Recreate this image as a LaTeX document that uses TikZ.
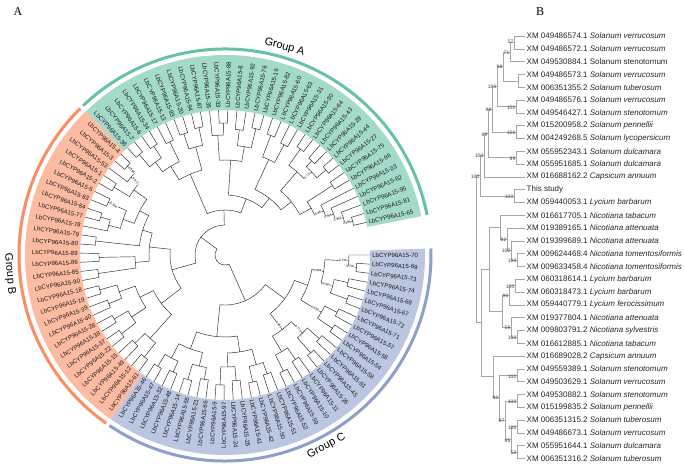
\documentclass[tikz,border=0pt]{standalone}
\usepackage{fontspec}
\setmainfont{Liberation Sans}
\newfontfamily\panelfont{Liberation Serif}
\definecolor{gA}{HTML}{66C2A5}
\definecolor{gB}{HTML}{FC8D62}
\definecolor{gC}{HTML}{8DA0CB}
\newcommand\ang[1]{13+(#1)*3.6146}
\newcommand\cl[5]{\draw[br] ({\ang{#2}}:#3) -- ({\ang{#2}}:#1) arc[start angle={\ang{#2}}, end angle={\ang{#4}}, radius=#1] -- ({\ang{#4}}:#5);}
\newcommand\band[3]{\fill[#1] ({\ang{#2}}:145) arc[start angle={\ang{#2}}, end angle={\ang{#3}}, radius=145] -- ({\ang{#3}}:200) arc[start angle={\ang{#3}}, end angle={\ang{#2}}, radius=200] -- cycle;}
\newcommand\garc[3]{\draw[#1, line width=3] ({\ang{#2}}:206) arc[start angle={\ang{#2}}, end angle={\ang{#3}}, radius=206];}
\newcommand\cbs[5]{\node[cbsty, rotate=#4] (#5) at ({\ang{#1}}:#2) {#3};}
\newcommand\Y[1]{-(36+(#1-1)*12.8)}
\newcommand\rc[5]{\draw[rbr] (#3,{\Y{#2}}) -- (#1,{\Y{#2}}) -- (#1,{\Y{#4}}) -- (#5,{\Y{#4}});}
\newcommand\rb[4]{\node[rbs] (#4) at (#1,{\Y{#2}}) {#3};}
\newcommand\rl[3]{\node[rlab] (#1) at (525,{\Y{#2}}) {#3};}
\tikzset{
  br/.style={draw=black!85, line width=0.45},
  rbr/.style={draw=black!35, line width=0.6},
  leaf/.style={font=\fontsize{6.1}{6.6}\selectfont, inner sep=0.6, text=black!90},
  grp/.style={font=\fontsize{11}{12}\selectfont, inner sep=1},
  cbsty/.style={font=\fontsize{3.1}{3.4}\selectfont, inner sep=0.25, fill=white},
  rbs/.style={font=\fontsize{5}{6}\selectfont, inner sep=0.5, anchor=north east, text=black!75},
  rlab/.style={font=\fontsize{8}{9}\selectfont, anchor=west, inner sep=1.5, text=black!85},
  panel/.style={font=\panelfont\fontsize{12}{13}\selectfont, inner sep=0}
}
\begin{document}
\begin{tikzpicture}[x=1pt,y=1pt]
\useasboundingbox (0,0) rectangle (685,-466);
\fill[white] (0,0) rectangle (685,-466);
\node[panel] (pA) at (18,-12) {A};
\node[panel] (pB) at (540,-12) {B};
\begin{scope}[shift={(225,-255)}]
% bands
\band{gA!60}{-0.5}{33.5}
\band{gB!60}{33.5}{61.5}
\band{gC!60}{61.5}{96.5}
\garc{gA}{-0.5}{33.35}
\garc{gB}{33.65}{61.35}
\garc{gC}{61.65}{96.5}
\node[grp, anchor=south, rotate=-15] (gAlab) at (74:210) {Group A};
\node[grp, anchor=north, rotate=-85] (gBlab) at (185:210) {Group B};
\node[grp, anchor=north, rotate=28] (gClab) at (-62:210) {Group C};
% group A
\cl{132}{0}{145}{1}{145}
\cl{124}{0.5}{132}{2}{145}
\cl{116}{1.25}{124}{3}{145}
\cl{108}{2.125}{116}{4}{145}
\cl{128}{5}{145}{6}{145}
\cl{98}{3.0625}{108}{5.5}{128}
\cl{132}{7}{145}{8}{145}
\cl{128}{9}{145}{10}{145}
\cl{120}{7.5}{132}{9.5}{128}
\cl{130}{11}{145}{12}{145}
\cl{110}{8.5}{120}{11.5}{130}
\cl{85}{4.28125}{98}{10}{110}
\cl{125}{13}{145}{14}{145}
\cl{128}{15}{145}{16}{145}
\cl{105}{13.5}{125}{15.5}{128}
\cl{72}{7.140625}{85}{14.5}{105}
\cl{130}{17}{145}{18}{145}
\cl{126}{19}{145}{20}{145}
\cl{110}{17.5}{130}{19.5}{126}
\cl{132}{21}{145}{22}{145}
\cl{120}{21.5}{132}{23}{145}
\cl{95}{18.5}{110}{22.25}{120}
\cl{60}{10.8203}{72}{20.375}{95}
\cl{130}{24}{145}{25}{145}
\cl{128}{26}{145}{27}{145}
\cl{112}{24.5}{130}{26.5}{128}
\cl{126}{28}{145}{29}{145}
\cl{130}{30}{145}{31}{145}
\cl{132}{32}{145}{33}{145}
\cl{116}{30.5}{130}{32.5}{132}
\cl{104}{28.5}{126}{31.5}{116}
\cl{88}{25.5}{112}{30}{104}
\cl{45}{15.5977}{60}{27.75}{88}
% group B
\cl{132}{34}{145}{35}{145}
\cl{122}{34.5}{132}{36}{145}
\cl{130}{37}{145}{38}{145}
\cl{112}{35.25}{122}{37.5}{130}
\cl{128}{39}{145}{40}{145}
\cl{130}{41}{145}{42}{145}
\cl{120}{41.5}{130}{43}{145}
\cl{108}{39.5}{128}{42.25}{120}
\cl{96}{36.375}{112}{40.875}{108}
\cl{130}{44}{145}{45}{145}
\cl{86}{38.625}{96}{44.5}{130}
\cl{126}{46}{145}{47}{145}
\cl{128}{48}{145}{49}{145}
\cl{90}{46.5}{126}{48.5}{128}
\cl{76}{41.5625}{86}{47.5}{90}
\cl{130}{50}{145}{51}{145}
\cl{126}{52}{145}{53}{145}
\cl{112}{50.5}{130}{52.5}{126}
\cl{128}{54}{145}{55}{145}
\cl{130}{56}{145}{57}{145}
\cl{112}{54.5}{128}{56.5}{130}
\cl{95}{51.5}{112}{55.5}{112}
\cl{126}{58}{145}{59}{145}
\cl{130}{60}{145}{61}{145}
\cl{112}{58.5}{126}{60.5}{130}
\cl{80}{53.5}{95}{59.5}{112}
\cl{55}{44.53125}{76}{56.5}{80}
\cl{30}{21.674}{45}{50.5156}{55}
% group C
\cl{130}{62}{145}{63}{145}
\cl{128}{64}{145}{65}{145}
\cl{116}{62.5}{130}{64.5}{128}
\cl{130}{66}{145}{67}{145}
\cl{126}{68}{145}{69}{145}
\cl{114}{66.5}{130}{68.5}{126}
\cl{100}{63.5}{116}{67.5}{114}
\cl{130}{70}{145}{71}{145}
\cl{126}{72}{145}{73}{145}
\cl{112}{70.5}{130}{72.5}{126}
\cl{130}{74}{145}{75}{145}
\cl{126}{76}{145}{77}{145}
\cl{114}{74.5}{130}{76.5}{126}
\cl{98}{71.5}{112}{75.5}{114}
\cl{82}{65.5}{100}{73.5}{98}
\cl{130}{78}{145}{79}{145}
\cl{126}{80}{145}{81}{145}
\cl{112}{78.5}{130}{80.5}{126}
\cl{130}{82}{145}{83}{145}
\cl{126}{84}{145}{85}{145}
\cl{110}{82.5}{130}{84.5}{126}
\cl{94}{79.5}{112}{83.5}{110}
\cl{130}{86}{145}{87}{145}
\cl{126}{88}{145}{89}{145}
\cl{112}{86.5}{130}{88.5}{126}
\cl{130}{90}{145}{91}{145}
\cl{126}{92}{145}{93}{145}
\cl{112}{90.5}{130}{92.5}{126}
\cl{132}{94}{145}{95}{145}
\cl{124}{94.5}{132}{96}{145}
\cl{100}{91.5}{112}{95.25}{124}
\cl{88}{87.5}{112}{93.375}{100}
\cl{74}{81.5}{94}{90.4375}{88}
\cl{50}{69.5}{82}{85.96875}{74}
% root
\cl{10}{36.095}{30}{77.734}{50}
% support values
\cbs{94.5}{126}{0.702}{0}{s1}
\cbs{95.25}{118}{0.734}{-2}{s2}
\cbs{93.375}{94}{0.909}{-8}{s3}
\cbs{91.5}{106}{0.987}{-15}{s4}
\cbs{87.5}{106}{0.98}{-35}{s5}
\cbs{83.5}{104}{0.775}{-48}{s6}
\cbs{81.5}{88}{0.965}{-55}{s7}
\cbs{0.5}{126}{0.999}{13}{s8}
\cbs{1.25}{118}{0.996}{16}{s9}
\cbs{2.125}{110}{0.998}{20}{s10}
\cbs{3.0625}{102}{0.96}{24}{s11}
\cbs{8.5}{114}{0.777}{44}{s12}
\cbs{34.5}{126}{0.998}{-48}{s13}
\cbs{35.25}{116}{0.977}{-50}{s14}
\cbs{39.5}{122}{0.994}{-35}{s15}
% leaf labels
\foreach \k/\n in {0/65,1/81,2/95,3/62,4/23,5/96,6/75,7/27,8/44,9/29,10/43,11/64,12/30,13/31,14/63,15/60,16/82,17/16,18/76,19/92,20/8,21/88,22/33,23/35,24/87,25/94,26/20,27/93,28/13,29/17,30/34,31/6,32/7,33/36,34/4,35/3,36/53,37/1,38/2,39/5,40/83,41/84,42/77,43/78,44/79,45/80,46/89,47/86,48/85,49/90,50/18,51/19,52/39,53/40,54/28,55/38,56/37,57/22,58/15,59/49,60/12,61/61,62/46,63/47,64/32,65/48,66/14,67/55,68/21,69/66,70/9,71/97,72/24,73/25,74/41,75/42,76/50,77/51,78/52,79/59,80/10,81/11,82/26,83/45,84/91,85/58,86/54,87/56,88/57,89/71,90/72,91/67,92/68,93/74,94/73,95/69,96/70}{%
  \pgfmathsetmacro\th{13+\k*3.6146}%
  \pgfmathtruncatemacro\side{and(\th>90,\th<270)}%
  \ifnum\side=1
    \node[leaf,anchor=east,rotate=\th+180] (l\n) at (\th:146.5) {LbCYP96A15-\n};
  \else
    \node[leaf,anchor=west,rotate=\th] (l\n) at (\th:146.5) {LbCYP96A15-\n};
  \fi
}
\end{scope}
% ---------- panel B ----------
\rc{514}{1}{525}{2}{525}
\rc{510}{1.5}{514}{3}{525}
\rc{518}{4}{525}{5}{525}
\rc{503}{2.25}{510}{4.5}{518}
\rc{516}{6}{525}{7}{525}
\rc{497}{3.375}{503}{6.5}{516}
\rc{516}{8}{525}{9}{525}
\rc{492}{4.94}{497}{8.5}{516}
\rc{516}{10}{525}{11}{525}
\rc{488}{6.72}{492}{10.5}{516}
\rc{484}{8.61}{488}{12}{525}
\rc{514}{13}{525}{14}{525}
\rc{480}{10.3}{484}{13.5}{514}
\rc{517}{18}{525}{19}{525}
\rc{511}{17}{525}{18.5}{517}
\rc{507}{16}{525}{17.75}{511}
\rc{500}{15}{525}{16.875}{507}
\rc{515}{20}{525}{21}{525}
\rc{509}{20.5}{515}{22}{525}
\rc{517}{24}{525}{25}{525}
\rc{511}{23}{525}{24.5}{517}
\rc{502}{21.25}{509}{23.75}{511}
\rc{489}{15.94}{500}{22.5}{502}
\rc{517}{27}{525}{28}{525}
\rc{517}{29}{525}{30}{525}
\rc{517}{31}{525}{32}{525}
\rc{517}{33}{525}{34}{525}
\rc{511}{31.5}{517}{33.5}{517}
\rc{505}{29.5}{517}{32.5}{511}
\rc{499}{27.5}{517}{31}{505}
\rc{493}{26}{525}{29.25}{499}
\rc{481}{19.22}{489}{27.6}{493}
\rc{476}{11.9}{480}{23.4}{481}
\rb{514}{1.3}{57}{b1}
\rb{510}{2.1}{71}{b2}
\rb{503}{3.2}{98}{b3}
\rb{497}{4.8}{100}{b4}
\rb{516}{6.4}{100}{b5}
\rb{492}{6.6}{99}{b6}
\rb{516}{8.4}{100}{b7}
\rb{488}{8.5}{99}{b8}
\rb{516}{10.4}{99}{b9}
\rb{484}{10.2}{100}{b10}
\rb{480}{11.8}{100}{b11}
\rb{514}{13.4}{100}{b12}
\rb{507}{16.7}{82}{b13}
\rb{511}{17.6}{100}{b14}
\rb{517}{18.4}{100}{b15}
\rb{515}{20.4}{100}{b16}
\rb{509}{21.1}{96}{b17}
\rb{511}{23.6}{59}{b18}
\rb{517}{24.4}{100}{b19}
\rb{517}{27.4}{100}{b20}
\rb{499}{29.1}{90}{b21}
\rb{517}{29.4}{100}{b22}
\rb{505}{30.9}{97}{b23}
\rb{517}{31.4}{100}{b24}
\rb{511}{32.4}{95}{b25}
\rb{517}{33.4}{53}{b26}
\rl{r1}{1}{XM 049486574.1 \textit{Solanum verrucosum}}
\rl{r2}{2}{XM 049486572.1 \textit{Solanum verrucosum}}
\rl{r3}{3}{XM 049530884.1 Solanum stenotomum}
\rl{r4}{4}{XM 049486573.1 \textit{Solanum verrucosum}}
\rl{r5}{5}{XM 006351355.2 \textit{Solanum tuberosum}}
\rl{r6}{6}{XM 049486576.1 \textit{Solanum verrucosum}}
\rl{r7}{7}{XM 049546427.1 \textit{Solanum stenotomum}}
\rl{r8}{8}{XM 015200958.2 \textit{Solanum pennellii}}
\rl{r9}{9}{XM 004249268.5 \textit{Solanum lycopersicum}}
\rl{r10}{10}{XM 055952343.1 \textit{Solanum dulcamara}}
\rl{r11}{11}{XM 055951685.1 \textit{Solanum dulcamara}}
\rl{r12}{12}{XM 016688162.2 \textit{Capsicum annuum}}
\rl{r13}{13}{This study}
\rl{r14}{14}{XM 059440053.1 \textit{Lycium barbarum}}
\rl{r15}{15}{XM 016617705.1 \textit{Nicotiana tabacum}}
\rl{r16}{16}{XM 019389165.1 \textit{Nicotiana attenuata}}
\rl{r17}{17}{XM 019399689.1 \textit{Nicotiana attenuata}}
\rl{r18}{18}{XM 009624468.4 \textit{Nicotiana tomentosiformis}}
\rl{r19}{19}{XM 009633458.4 \textit{Nicotiana tomentosiformis}}
\rl{r20}{20}{XM 060318614.1 \textit{Lycium barbarum}}
\rl{r21}{21}{XM 060318473.1 \textit{Lycium barbarum}}
\rl{r22}{22}{XM 059440779.1 \textit{Lycium ferocissimum}}
\rl{r23}{23}{XM 019377804.1 \textit{Nicotiana attenuata}}
\rl{r24}{24}{XM 009803791.2 \textit{Nicotiana sylvestris}}
\rl{r25}{25}{XM 016612885.1 \textit{Nicotiana tabacum}}
\rl{r26}{26}{XM 016689028.2 \textit{Capsicum annuum}}
\rl{r27}{27}{XM 049559389.1 \textit{Solanum stenotomum}}
\rl{r28}{28}{XM 049503629.1 \textit{Solanum verrucosum}}
\rl{r29}{29}{XM 049530882.1 \textit{Solanum stenotomum}}
\rl{r30}{30}{XM 015199835.2 \textit{Solanum pennellii}}
\rl{r31}{31}{XM 006351315.2 \textit{Solanum tuberosum}}
\rl{r32}{32}{XM 049486673.1 \textit{Solanum verrucosum}}
\rl{r33}{33}{XM 055951644.1 \textit{Solanum dulcamara}}
\rl{r34}{34}{XM 006351316.2 \textit{Solanum tuberosum}}
\end{tikzpicture}
\end{document}
